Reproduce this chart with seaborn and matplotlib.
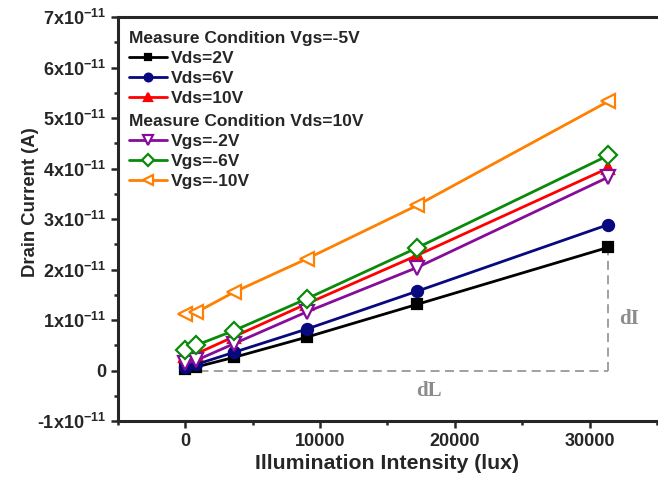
import pandas as pd
import seaborn as sns
import matplotlib.pyplot as plt
from matplotlib.ticker import MultipleLocator

# illumination intensity (lux)
lux = [0, 800, 3600, 9000, 17200, 31400]

# drain current in units of 1e-11 A
vds_2v = [0.03, 0.07, 0.26, 0.66, 1.31, 2.44]
vds_6v = [0.07, 0.12, 0.36, 0.82, 1.57, 2.89]
vds_10v = [0.28, 0.33, 0.67, 1.32, 2.28, 4.01]
vgs_m2v = [0.14, 0.20, 0.53, 1.16, 2.04, 3.83]
vgs_m6v = [0.41, 0.50, 0.79, 1.42, 2.43, 4.26]
vgs_m10v = [1.12, 1.15, 1.55, 2.21, 3.27, 5.33]

ytick_vals = [-1, 0, 1, 2, 3, 4, 5, 6, 7]
ytick_labels = ["-1x10$^{-11}$", "0", "1x10$^{-11}$", "2x10$^{-11}$", "3x10$^{-11}$",
                "4x10$^{-11}$", "5x10$^{-11}$", "6x10$^{-11}$", "7x10$^{-11}$"]
xtick_vals = [0, 10000, 20000, 30000]

SERIES = [
    ("Vds=2V", vds_2v, dict(color="black", marker="s", mfc="black", ms=7)),
    ("Vds=6V", vds_6v, dict(color="#08087f", marker="o", mfc="#08087f", ms=8)),
    ("Vds=10V", vds_10v, dict(color="#ff0000", marker="^", mfc="#ff0000", ms=8)),
    ("Vgs=-2V", vgs_m2v, dict(color="#860c99", marker="v", mfc="white", ms=10)),
    ("Vgs=-6V", vgs_m6v, dict(color="#0a8a0a", marker="D", mfc="white", ms=9)),
    ("Vgs=-10V", vgs_m10v, dict(color="#ff8000", marker="<", mfc="white", ms=10)),
]

sns.set_style("ticks")
plt.rcParams["font.family"] = ["Liberation Sans", "DejaVu Sans"]
plt.rcParams["font.weight"] = "bold"
plt.rcParams["mathtext.fontset"] = "custom"
plt.rcParams["mathtext.rm"] = "Liberation Sans:bold"
plt.rcParams["mathtext.bf"] = "Liberation Sans:bold"
plt.rcParams["mathtext.default"] = "bf"

fig = plt.figure(figsize=(6.58, 4.78), dpi=100)
ax = fig.add_axes([0.1793, 0.1192, 0.819, 0.8452])

for name, vals, st in SERIES:
    df = pd.DataFrame({"lux": lux, "current": [v * 1e-11 for v in vals]})
    sns.lineplot(data=df, x="lux", y="current", ax=ax, lw=2.0,
                 mec=st["color"], mew=1.6, label=name, **st)
handles, labels = ax.get_legend_handles_labels()
ax.get_legend().remove()

# dL / dI guide lines from the Vds=2V series
ax.plot([lux[0], lux[-1]], [0, 0], ls=(0, (5, 3)), color="#999999", lw=1.3, zorder=1)
ax.plot([lux[-1], lux[-1]], [0, vds_2v[-1] * 1e-11], ls=(0, (5, 3)),
        color="#999999", lw=1.3, zorder=1)
ax.text(18100, -0.4e-11, "dL", family="Liberation Serif", weight="bold",
        fontsize=15, color="#8c8c8c", ha="center", va="center")
ax.text(32950, 1.03e-11, "dI", family="Liberation Serif", weight="bold",
        fontsize=15, color="#8c8c8c", ha="center", va="center")

ax.set_xlim(-5000, 35000)
ax.set_ylim(-1e-11, 7e-11)
ax.set_xticks(xtick_vals)
ax.set_yticks([v * 1e-11 for v in ytick_vals], ytick_labels)
ax.xaxis.set_minor_locator(MultipleLocator(5000))
ax.yaxis.set_minor_locator(MultipleLocator(0.5e-11))
ax.tick_params(which="major", length=5, width=1.8, labelsize=13, direction="out")
ax.tick_params(which="minor", length=3, width=1.8, direction="out")
for s in ["left", "bottom", "top"]:
    ax.spines[s].set_linewidth(2.2)
ax.spines["right"].set_visible(False)

ax.set_xlabel("Illumination Intensity (lux)", fontsize=15.3, weight="bold", labelpad=3)
ax.set_ylabel("Drain Current (A)", fontsize=13.3, weight="bold")
ax.yaxis.set_label_coords(-0.146, 0.542)

leg_kw = dict(loc="upper left", frameon=False, fontsize=12.5, alignment="left",
              title_fontproperties={"weight": "bold", "size": 12.5},
              handlelength=2.2, handletextpad=0.25, labelspacing=0.28,
              borderpad=0, borderaxespad=0, markerscale=0.7)
leg1 = ax.legend(handles[:3], labels[:3], title="Measure Condition Vgs=-5V",
                 bbox_to_anchor=(0.02, 0.966), **leg_kw)
ax.add_artist(leg1)
ax.legend(handles[3:], labels[3:], title="Measure Condition Vds=10V",
          bbox_to_anchor=(0.02, 0.76), **leg_kw)

fig.savefig("out.png", dpi=100)
